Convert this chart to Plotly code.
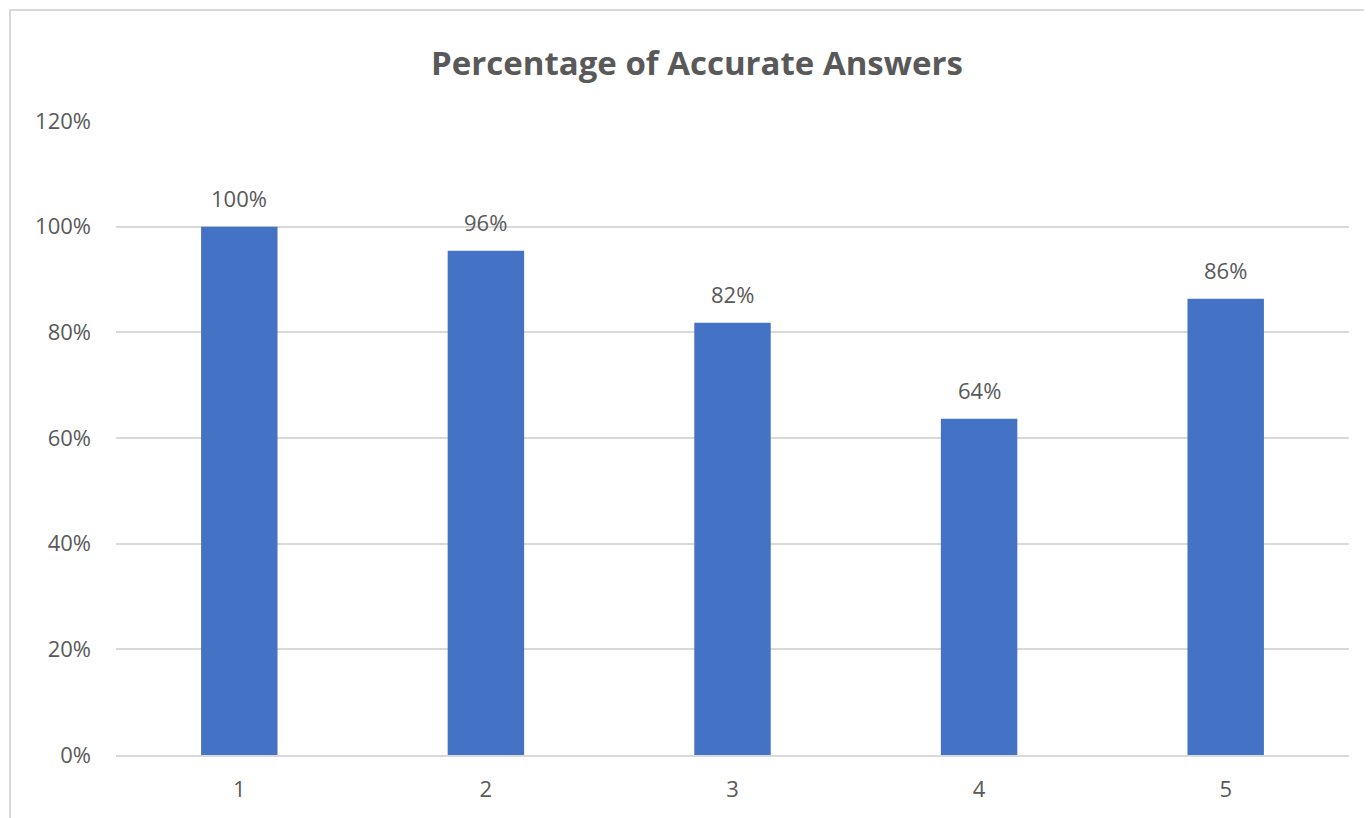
import plotly.graph_objects as go

# Question number and share of accurate answers (out of 22 respondents)
questions = ["1", "2", "3", "4", "5"]
accuracy = [1.0, 0.9545, 0.8182, 0.6364, 0.8636]
labels = ["100%", "96%", "82%", "64%", "86%"]
y_ticks = [0, 0.2, 0.4, 0.6, 0.8, 1.0, 1.2]
y_tick_text = ["0%", "20%", "40%", "60%", "80%", "100%", "120%"]

# the page body adds an 8px offset, so the figure is a bit smaller
W, H = 1364, 810
ML, MR, MT, MB = 108, 23, 113, 63
TEXT = "#595959"
FONT = "'Open Sans', sans-serif"

fig = go.Figure(
    go.Bar(
        x=questions,
        y=accuracy,
        width=0.31,
        marker=dict(color="#4472c4", line=dict(width=0)),
    )
)

# data labels sit a bit above each bar like in Excel
for i, (v, t) in enumerate(zip(accuracy, labels)):
    fig.add_annotation(
        x=i, y=v, text=t, showarrow=False, yanchor="bottom", yshift=12,
        font=dict(size=22, color=TEXT, family=FONT),
    )

# chart-area border (light grey frame)
pw, ph = W - ML - MR, H - MT - MB
fig.add_shape(
    type="rect", xref="paper", yref="paper",
    x0=(2 - ML) / pw, x1=(W + 5 - ML) / pw,
    y0=-(MB + 5) / ph, y1=1 + (MT - 2) / ph,
    line=dict(color="#d9d9d9", width=2), layer="below",
)

fig.update_layout(
    width=W,
    height=H,
    margin=dict(l=ML, r=MR, t=MT, b=MB),
    paper_bgcolor="white",
    plot_bgcolor="white",
    showlegend=False,
    title=dict(
        text="<b>Percentage of Accurate Answers</b>",
        x=689 / W,
        xanchor="center",
        y=1 - 55 / H,
        yanchor="middle",
        font=dict(size=33, color=TEXT, family=FONT),
    ),
    xaxis=dict(
        showgrid=False,
        showline=True,
        linecolor="#d9d9d9",
        linewidth=2,
        ticks="",
        tickfont=dict(size=22, color=TEXT, family=FONT),
        ticklabelstandoff=14,
    ),
    yaxis=dict(
        range=[0, 1.2],
        tickvals=y_ticks,
        ticktext=y_tick_text,
        showgrid=True,
        gridcolor="#d9d9d9",
        gridwidth=2,
        zeroline=False,
        showline=False,
        ticks="",
        tickfont=dict(size=22, color=TEXT, family=FONT),
        ticklabelstandoff=24,
    ),
)

fig.write_html("out.html")
